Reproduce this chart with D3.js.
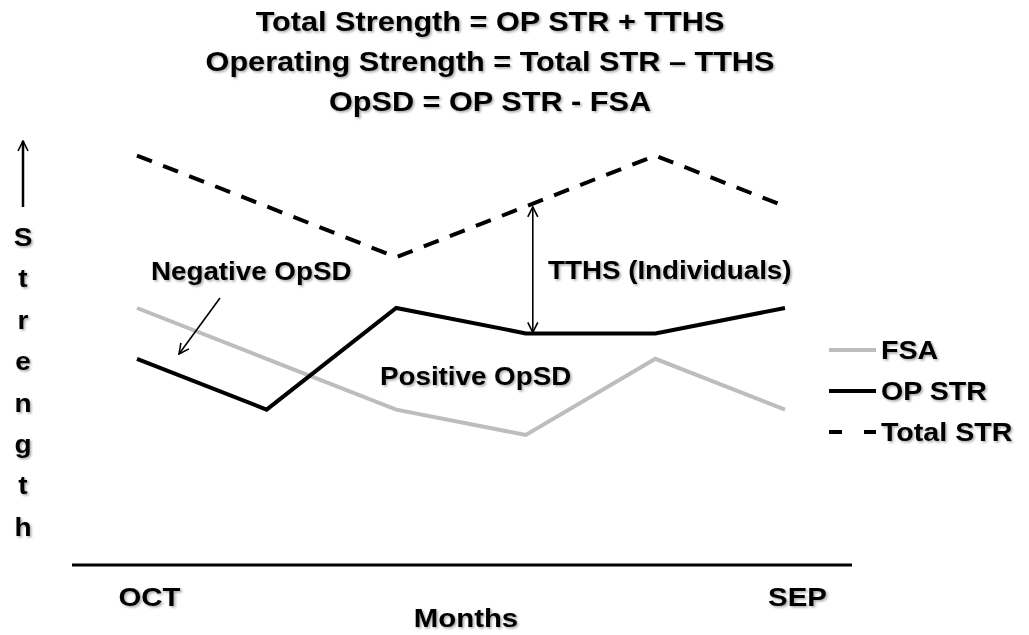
<!DOCTYPE html>
<html>
<head>
<meta charset="utf-8">
<script src="https://cdn.jsdelivr.net/npm/d3@7"></script>
<style>
  html, body { margin: 0; padding: 0; background: #fff; }
  svg { display: block; font-family: "Liberation Sans", Arial, sans-serif; font-weight: bold; }
</style>
</head>
<body>
<svg id="chart" width="1029" height="635"></svg>
<script>
// Conceptual strength chart: six monthly points from OCT to SEP
const months = ["OCT", "NOV", "DEC", "JAN", "FEB", "SEP"];
const fsa = [10, 8, 6, 5, 8, 6];
const opStr = [8, 6, 10, 9, 9, 10];
const totalStr = [16, 14, 12, 14, 16, 14];
const xTickLabels = ["OCT", "SEP"];
const titleLines = [
  "Total Strength = OP STR + TTHS",
  "Operating Strength = Total STR \u2013 TTHS",
  "OpSD = OP STR - FSA"
];
const legendItems = ["FSA", "OP STR", "Total STR"];

const svg = d3.select("#chart");

const defs = svg.append("defs");
const shadow = defs.append("filter").attr("id", "soft")
  .attr("x", "-10%").attr("y", "-20%").attr("width", "130%").attr("height", "160%");
shadow.append("feDropShadow").attr("dx", 1.5).attr("dy", 1.5)
  .attr("stdDeviation", 1.2).attr("flood-color", "#000").attr("flood-opacity", 0.35);

defs.append("marker").attr("id", "head")
  .attr("viewBox", "0 0 12 12").attr("refX", 11).attr("refY", 6)
  .attr("markerWidth", 12).attr("markerHeight", 12)
  .attr("markerUnits", "userSpaceOnUse").attr("orient", "auto-start-reverse")
  .append("path").attr("d", "M1,1 L11,6 L1,11").attr("fill", "none")
  .attr("stroke", "#000").attr("stroke-width", 1.6);

const x = d3.scalePoint().domain(months).range([137, 785]);
const y = d3.scaleLinear().domain([0, 16]).range([562, 155.6]);

// Places a slightly widened bold text at (px, py)
function wideText(sel, px, py, size, wide, str, anchor) {
  return sel.append("text")
    .attr("transform", `translate(${px},${py}) scale(${wide},1)`)
    .attr("text-anchor", anchor || "start")
    .attr("font-size", size)
    .text(str);
}

// Title
const gTitle = svg.append("g").attr("filter", "url(#soft)");
titleLines.forEach((t, i) => wideText(gTitle, 490, 31 + i * 40, 27, 1.135, t, "middle"));

// Series lines
const line = d3.line().x((d, i) => x(months[i])).y(d => y(d));
const series = [
  { name: "FSA", values: fsa, color: "#bdbdbd", dash: null },
  { name: "OP STR", values: opStr, color: "#000", dash: null },
  { name: "Total STR", values: totalStr, color: "#000", dash: "16,12" }
];
svg.append("g").selectAll("path").data(series).join("path")
  .attr("d", d => line(d.values))
  .attr("fill", "none")
  .attr("stroke", d => d.color)
  .attr("stroke-width", 4)
  .attr("stroke-dasharray", d => d.dash);

// X axis baseline with end labels
const xAxis = d3.axisBottom(x).tickValues(xTickLabels).tickSize(0).tickPadding(0);
const gx = svg.append("g").attr("transform", "translate(0,565)").call(xAxis);
gx.select(".domain").attr("d", "M72,0H852").attr("stroke", "#000").attr("stroke-width", 3);
gx.selectAll(".tick text")
  .attr("font-family", "Liberation Sans, Arial, sans-serif")
  .attr("font-weight", "bold").attr("font-size", 26)
  .attr("fill", "#000").attr("dy", 0).attr("y", 0)
  .attr("transform", "translate(12,41) scale(1.13,1)")
  .attr("filter", "url(#soft)");

const gMonths = svg.append("g").attr("filter", "url(#soft)");
wideText(gMonths, 466, 627, 26, 1.13, "Months", "middle");

// Y axis: upward arrow and stacked letters
svg.append("line").attr("x1", 23).attr("x2", 23).attr("y1", 207).attr("y2", 141)
  .attr("stroke", "#000").attr("stroke-width", 2.5).attr("marker-end", "url(#head)");
const gY = svg.append("g").attr("filter", "url(#soft)");
"Strength".split("").forEach((c, i) => wideText(gY, 23, 246 + i * 41.4, 25, 1.12, c, "middle"));

// Annotations
const ann = svg.append("g").attr("filter", "url(#soft)");
wideText(ann, 151, 280, 25, 1.11, "Negative OpSD");
wideText(ann, 380, 385, 25, 1.11, "Positive OpSD");
wideText(ann, 548, 279, 25, 1.11, "TTHS (Individuals)");

svg.append("line").attr("x1", 220).attr("y1", 298).attr("x2", 179).attr("y2", 354)
  .attr("stroke", "#000").attr("stroke-width", 1.6).attr("marker-end", "url(#head)");

// TTHS gap arrow between OP STR and Total STR
const gx3 = x(months[3]) + 7;
const tthsTop = y(totalStr[3]) + 0.5;
const tthsBot = y(opStr[3]) - 1;
svg.append("line").attr("x1", gx3).attr("x2", gx3).attr("y1", tthsTop).attr("y2", tthsBot)
  .attr("stroke", "#000").attr("stroke-width", 1.6)
  .attr("marker-start", "url(#head)").attr("marker-end", "url(#head)");

// Legend
const legend = svg.append("g");
const ly = d3.scalePoint().domain(legendItems).range([350, 432]);
series.forEach(s => {
  const g = legend.append("g");
  g.append("line").attr("x1", 829).attr("x2", 876)
    .attr("y1", ly(s.name)).attr("y2", ly(s.name))
    .attr("stroke", s.color).attr("stroke-width", 4)
    .attr("stroke-dasharray", s.dash ? "13,22" : null);
  const gt = g.append("g").attr("filter", "url(#soft)");
  wideText(gt, 881, ly(s.name) + 9, 26, 1.1, s.name);
});
</script>
</body>
</html>
